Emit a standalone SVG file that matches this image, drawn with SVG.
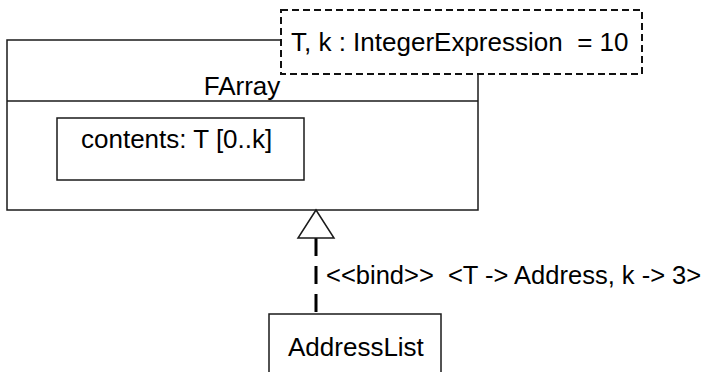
<svg xmlns="http://www.w3.org/2000/svg" width="707" height="372" viewBox="0 0 707 372">
<style>
.box{fill:#fff;stroke:#1a1a1a;stroke-width:1.5}
.tpl{fill:#fff;stroke:#111;stroke-width:2;stroke-dasharray:7 4}
.t{font-family:"Liberation Sans",Arial,sans-serif;font-size:26px;fill:#000}
.lbl{font-size:25.5px}
.dep{fill:none;stroke:#000;stroke-width:3;stroke-dasharray:18 10}
.head{fill:#fff;stroke:#1a1a1a;stroke-width:1.5}
</style>
<rect width="707" height="372" fill="#fff"/>
<g id="FArray">
<rect class="box" x="7" y="40" width="471" height="170"/>
<line class="box" x1="7" y1="101" x2="478" y2="101"/>
<text class="t" x="242" y="95" text-anchor="middle">FArray</text>
<g id="contents">
<rect class="box" x="57" y="118" width="247" height="62"/>
<text class="t" x="81" y="148">contents: T [0..k]</text>
</g>
</g>
<g id="template">
<rect class="tpl" x="281" y="10" width="361" height="64"/>
<text class="t" x="291" y="51" xml:space="preserve">T, k : IntegerExpression  = 10</text>
</g>
<g id="AddressList">
<rect class="box" x="269" y="314" width="172" height="70"/>
<text class="t" x="288" y="356">AddressList</text>
</g>
<g id="connectors">
<line class="dep" x1="316" y1="238" x2="316" y2="314"/>
<polygon class="head" points="316,210 298,238 334,238"/>
<text class="t lbl" x="326" y="284" xml:space="preserve">&lt;&lt;bind&gt;&gt;  &lt;T -&gt; Address, k -&gt; 3&gt;</text>
</g>
</svg>
